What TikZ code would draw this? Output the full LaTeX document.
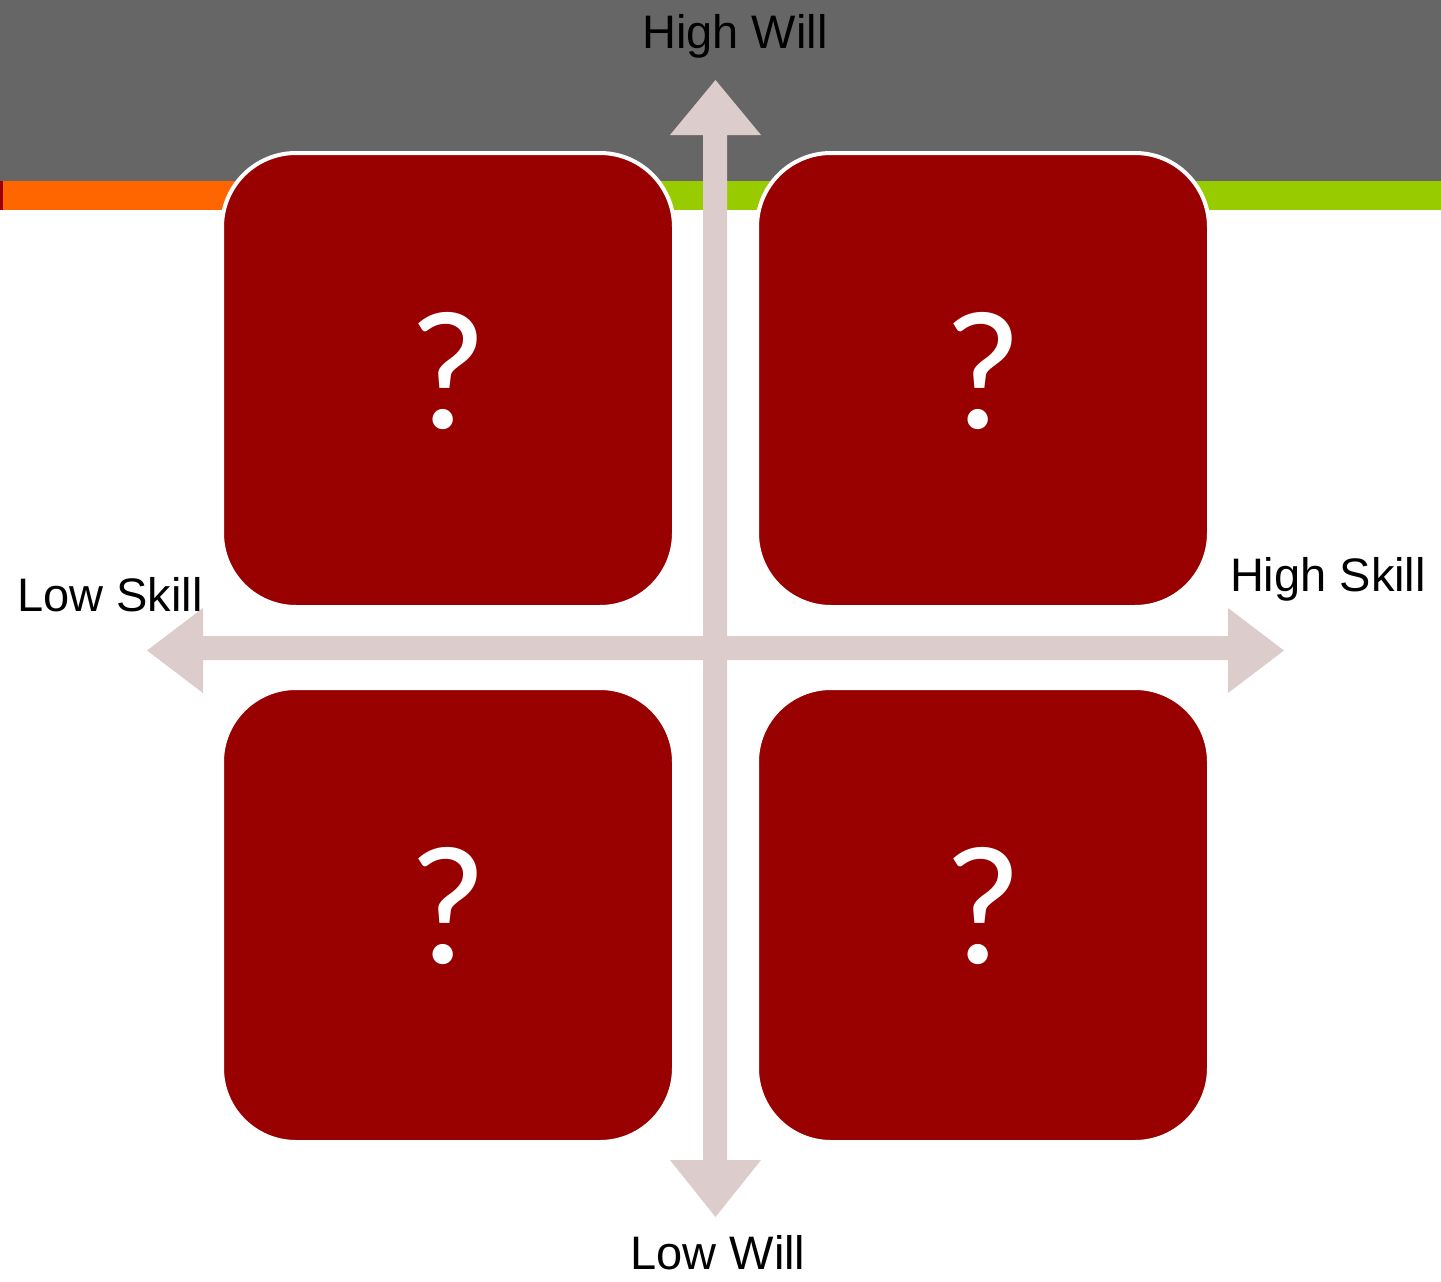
\documentclass[tikz,border=0pt]{standalone}
\usepackage{fontspec}
\setmainfont{Liberation Sans}
\newfontfamily\qfont{Carlito}
\definecolor{band}{HTML}{666666}
\definecolor{orangebar}{HTML}{FF6600}
\definecolor{greenbar}{HTML}{99CC00}
\definecolor{boxred}{HTML}{990000}
\definecolor{axis}{HTML}{DDCCCC}
\begin{document}
\begin{tikzpicture}[x=1pt,y=-1pt,
  quad/.style={draw=white,line width=4pt,fill=boxred,rounded corners=74pt,
    minimum width=452pt,minimum height=454pt,inner sep=0pt},
  qmark/.style={text=white,inner sep=0pt,font=\qfont\fontsize{170}{170}\selectfont},
  lbl/.style={font=\fontsize{47}{56}\selectfont,inner sep=0pt,text=black}]
\useasboundingbox (0,0) rectangle (1441,1282);
\fill[white] (0,0) rectangle (1441,1282);
\fill[band] (0,0) rectangle (1441,181);
\fill[orangebar] (0,181) rectangle (448,210);
\fill[greenbar] (448,181) rectangle (1441,210);
\fill[boxred] (0,181) rectangle (3,210);
% quadrants
\node[quad] (tl) at (448,380) {};
\node[quad] (tr) at (983,380) {};
\node[quad] (bl) at (448,915) {};
\node[quad] (br) at (983,915) {};
\node[qmark] (qtl) at ([yshift=9pt]tl.center) {?};
\node[qmark] (qtr) at ([yshift=9pt]tr.center) {?};
\node[qmark] (qbl) at ([yshift=9pt]bl.center) {?};
\node[qmark] (qbr) at ([yshift=9pt]br.center) {?};
% axes
\fill[axis] (703,135) -- (670,135) -- (715.5,80) -- (761,135) -- (727,135)
  -- (727,1160) -- (761,1160) -- (715.5,1217) -- (670,1160) -- (703,1160) -- cycle;
\fill[axis] (203,636) -- (203,608) -- (147,650.5) -- (203,693) -- (203,660)
  -- (1228,660) -- (1228,693) -- (1284,650.5) -- (1228,608) -- (1228,636) -- cycle;
% labels
\node[lbl] (hw) at (735,36) {High Will};
\node[lbl] (lw) at (718,1253) {Low Will};
\node[lbl] (ls) at (110,595) {Low Skill};
\node[lbl] (hs) at (1328,579) {High Skill};
\end{tikzpicture}
\end{document}
